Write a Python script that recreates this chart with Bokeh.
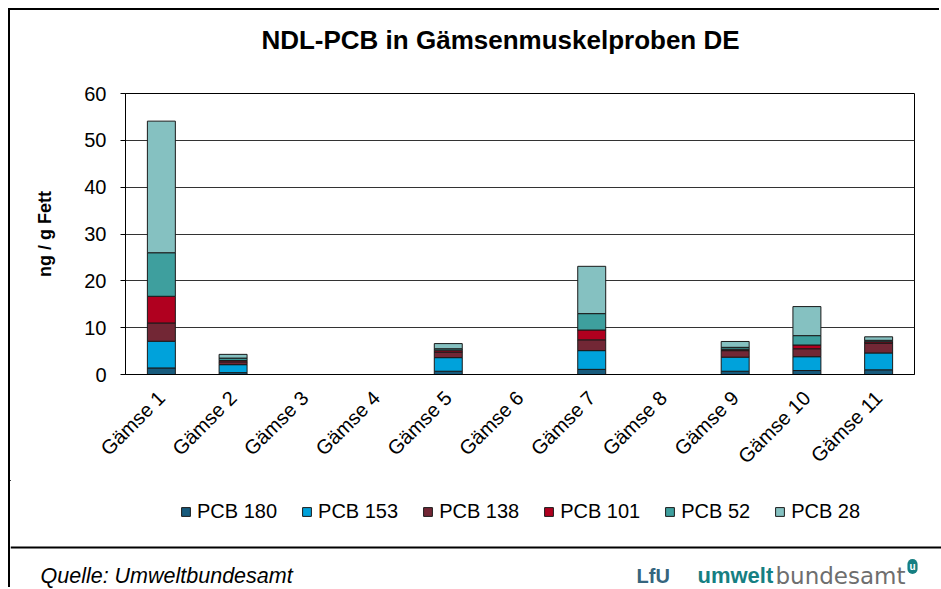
from bokeh.plotting import figure
from bokeh.layouts import column
from bokeh.models import (Legend, LegendItem, Label, FixedTicker, Range1d, FactorRange,
                          ColumnDataSource, BoxAnnotation)
from bokeh.embed import file_html
from bokeh.resources import INLINE

samples = ["Gämse 1", "Gämse 2", "Gämse 3", "Gämse 4", "Gämse 5", "Gämse 6",
           "Gämse 7", "Gämse 8", "Gämse 9", "Gämse 10", "Gämse 11"]
series = ["PCB 180", "PCB 153", "PCB 138", "PCB 101", "PCB 52", "PCB 28"]
pcb180 = [1.4, 0.4, 0, 0, 0.7, 0, 1.1, 0, 0.7, 0.85, 1.0]
pcb153 = [5.7, 1.7, 0, 0, 2.9, 0, 4.0, 0, 3.0, 2.95, 3.6]
pcb138 = [3.9, 0.6, 0, 0, 1.2, 0, 2.3, 0, 1.4, 1.7, 2.1]
pcb101 = [5.7, 0.3, 0, 0, 0.4, 0, 2.1, 0, 0.3, 0.8, 0.3]
pcb52 = [9.3, 0.5, 0, 0, 0.3, 0, 3.5, 0, 0.4, 2.0, 0.3]
pcb28 = [28.1, 0.8, 0, 0, 1.1, 0, 10.1, 0, 1.25, 6.2, 0.75]
colors = ["#175a7c", "#00a2db", "#722735", "#b0001f", "#3e9f9e", "#85c1c1"]
y_ticks = [0, 10, 20, 30, 40, 50, 60]

FONT = "Liberation Sans"
data = {"sample": samples, "PCB 180": pcb180, "PCB 153": pcb153, "PCB 138": pcb138,
        "PCB 101": pcb101, "PCB 52": pcb52, "PCB 28": pcb28}
src = ColumnDataSource(data)

def blank(w, h, x0, x1, y0, y1):
    # a figure whose plot area is the whole canvas; data coords = page pixel coords
    f = figure(width=w, height=h, x_range=Range1d(x0, x1), y_range=Range1d(y1, y0),
               output_backend="svg", toolbar_location=None, frame_align=False,
               x_axis_location=None, y_axis_location=None,
               min_border_left=0, min_border_right=0, min_border_top=0, min_border_bottom=0)
    f.grid.grid_line_color = None
    f.outline_line_color = None
    return f

# --- heading (page y 10..80)
head = blank(931, 70, 10, 941, 10, 80)
head.add_layout(Label(x=500, y=39, text="NDL-PCB in Gämsenmuskelproben DE",
                      text_align="center", text_baseline="middle",
                      text_font=FONT, text_font_style="bold", text_font_size="26px",
                      text_color="black"))

# --- main chart (page y 80..480)
p = figure(x_range=FactorRange(*samples), y_range=Range1d(0, 60),
           width=931, height=400, output_backend="svg", toolbar_location=None,
           frame_align=False,
           min_border_left=115, min_border_right=27, min_border_top=13, min_border_bottom=106)

renderers = p.vbar_stack(series, x="sample", width=0.39, source=src, color=colors,
                         line_color="#1a1a1a", line_width=1)

p.outline_line_color = "black"
p.outline_line_width = 1
p.xgrid.grid_line_color = None
p.ygrid.grid_line_color = "#333333"
p.ygrid.grid_line_width = 1

p.yaxis.ticker = FixedTicker(ticks=y_ticks)
p.yaxis.axis_label = "ng / g Fett"
p.yaxis.axis_label_text_font = FONT
p.yaxis.axis_label_text_font_size = "18px"
p.yaxis.axis_label_text_font_style = "bold"
p.yaxis.axis_label_text_color = "black"
p.yaxis.axis_label_standoff = 26
p.yaxis.major_label_text_font = FONT
p.yaxis.major_label_text_font_size = "20px"
p.yaxis.major_label_text_color = "black"
p.yaxis.major_label_standoff = 14
p.yaxis.major_tick_out = 5
p.yaxis.major_tick_in = 0
p.yaxis.minor_tick_line_color = None
p.yaxis.axis_line_color = "black"

p.xaxis.major_label_orientation = 0.785
p.xaxis.major_label_text_font = FONT
p.xaxis.major_label_text_font_size = "20px"
p.xaxis.major_label_text_color = "black"
p.xaxis.major_tick_line_color = None
p.xaxis.major_label_standoff = 14
p.xaxis.axis_line_color = "black"

# --- legend and footer (page y 480..589)
bot = blank(931, 109, 10, 941, 480, 589)
keys = [bot.vbar(x=[0], bottom=[0], top=[0], width=0, fill_color=c, line_color="#1a1a1a")
        for c in colors]
items = [LegendItem(label=s, renderers=[r]) for s, r in zip(series, keys)]
legend = Legend(items=items, orientation="horizontal", location=(170, 66),
                label_text_font=FONT, label_text_font_size="20px",
                label_text_color="black",
                glyph_width=11, glyph_height=11, label_standoff=6, spacing=24,
                border_line_color=None, background_fill_alpha=0, margin=0, padding=0)
bot.add_layout(legend, "center")
bot.add_layout(BoxAnnotation(left=10, right=941, top=546, bottom=548, fill_color="black",
                             fill_alpha=1, line_color=None))

bot.add_layout(Label(x=40, y=575, text="Quelle: Umweltbundesamt", text_baseline="middle",
                     text_font=FONT, text_font_style="italic", text_font_size="21.5px",
                     text_color="black"))
bot.add_layout(Label(x=636, y=575, text="LfU", text_baseline="middle",
                     text_font=FONT, text_font_style="bold", text_font_size="20px",
                     text_color="#35657e"))
bot.add_layout(Label(x=697, y=575, text="umwelt", text_baseline="middle",
                     text_font=FONT, text_font_style="bold", text_font_size="22px",
                     text_color="#167f82"))
bot.add_layout(Label(x=775, y=575, text="bundesamt", text_baseline="middle",
                     text_font="DejaVu Sans", text_font_size="23px", text_color="#6e6e6e"))
bot.add_layout(Label(x=912, y=566, text="u", text_align="center", text_baseline="middle",
                     text_font=FONT, text_font_style="bold", text_font_size="10px",
                     text_color="white", background_fill_color="#167f82", border_radius=6,
                     padding=2))

layout = column(head, p, bot, spacing=0, margin=(10, 0, 0, 10),
                styles={"box-shadow": "-2px -2px 0 0 black"})
open("out.html", "w").write(file_html(layout, INLINE))
